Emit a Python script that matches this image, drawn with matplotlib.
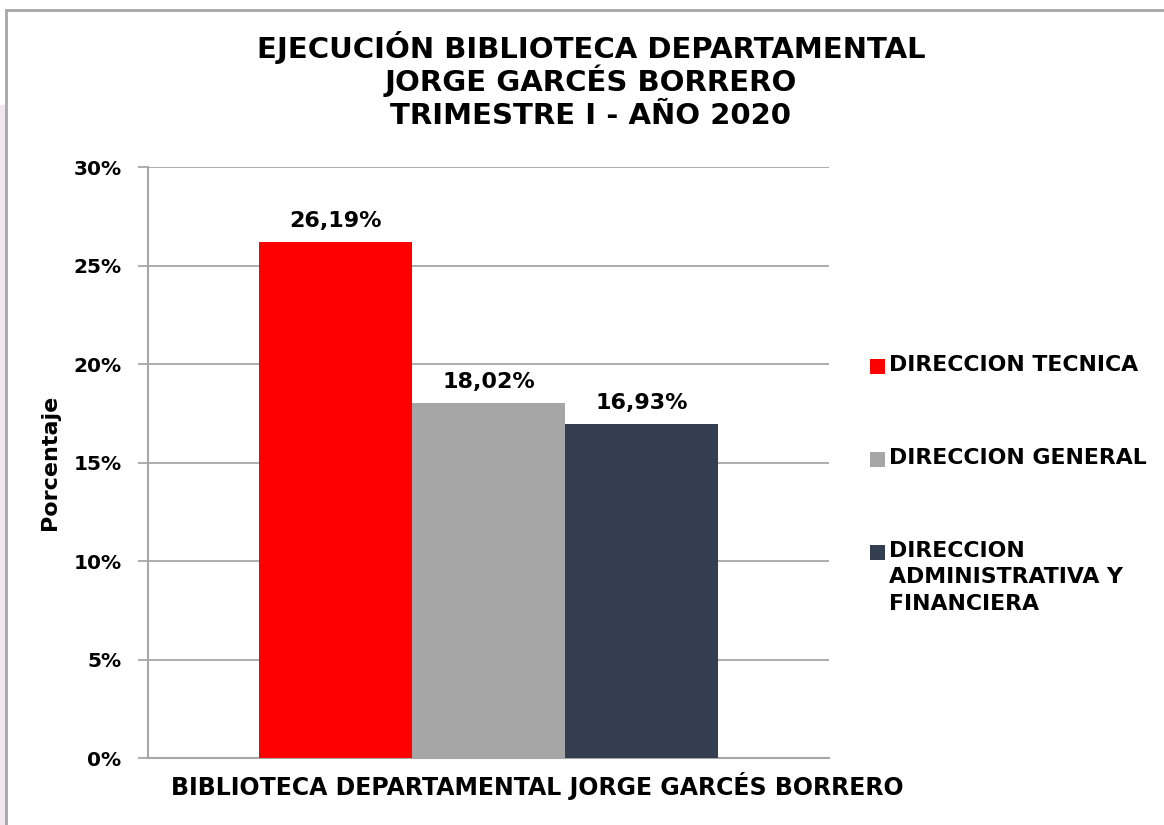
import matplotlib.pyplot as plt
from matplotlib.patches import Rectangle
from matplotlib.ticker import FuncFormatter

series = ["DIRECCION TECNICA", "DIRECCION GENERAL",
          "DIRECCION\nADMINISTRATIVA Y\nFINANCIERA"]
values = [26.19, 18.02, 16.93]
colors = ["#FF0000", "#A6A6A6", "#333F50"]
category = "BIBLIOTECA DEPARTAMENTAL JORGE GARCÉS BORRERO"
title_lines = ["EJECUCIÓN BIBLIOTECA DEPARTAMENTAL", "JORGE GARCÉS BORRERO",
               "TRIMESTRE I - AÑO 2020"]

plt.rcParams['font.family'] = ['DejaVu Sans']
plt.rcParams['font.weight'] = 'bold'

W, H = 1164, 825
fig = plt.figure(figsize=(W / 100, H / 100), dpi=100)

# outer frame like the excel chart area
fig.add_artist(Rectangle((0, 0), 6 / W, (H - 105) / H, transform=fig.transFigure,
                         color="#EFE6EE", lw=0))
fig.add_artist(Rectangle((6 / W, -0.01), 1.1, (H - 10) / H + 0.01,
                         transform=fig.transFigure, fill=False,
                         edgecolor="#A6A6A6", lw=2))

ax = fig.add_axes([148 / W, 1 - 758 / H, (829 - 148) / W, (758 - 167) / H])

bw = 153 / 681
xs = [0.5 - bw, 0.5, 0.5 + bw]
for x, v, c in zip(xs, values, colors):
    ax.bar(x, v, width=bw, color=c, zorder=3)
    ax.annotate(f"{v:.2f}%".replace(".", ","), (x, v), xytext=(0, 8),
                textcoords="offset points", ha="center", va="bottom",
                fontsize=16, fontweight="bold")

ax.set_xlim(0, 1)
ax.set_ylim(0, 30)
ax.set_yticks(range(0, 31, 5))
ax.yaxis.set_major_formatter(FuncFormatter(lambda v, p: f"{v:.0f}%"))
ax.set_xticks([])
ax.grid(axis="y", color="#A6A6A6", lw=1.3, zorder=0)
for s in ["top", "right"]:
    ax.spines[s].set_visible(False)
ax.spines["left"].set_color("#A6A6A6")
ax.spines["bottom"].set_color("#A6A6A6")
ax.spines["left"].set_linewidth(1.5)
ax.spines["bottom"].set_linewidth(1.5)
ax.tick_params(axis="y", length=7, width=1.3, color="#A6A6A6", labelsize=14.5, pad=12)
ax.set_ylabel("Porcentaje", fontsize=16, fontweight="bold", labelpad=10)

# title, one line at a time so accents don't shift the spacing
for base, line in zip([58, 91, 124], title_lines):
    fig.text(591 / W, 1 - base / H, line, ha="center", va="baseline",
             fontsize=21, fontweight="bold")
fig.text(537 / W, 1 - 786 / H, category, ha="center", va="center",
         fontsize=17, fontweight="bold")

# legend drawn by hand so the swatch sits on the first text line
leg_y = [366, 459, 552]
for y, lab, c in zip(leg_y, series, colors):
    fig.add_artist(Rectangle((870 / W, 1 - (y + 8) / H), 15 / W, 15 / H,
                             transform=fig.transFigure, color=c, lw=0))
    fig.text(889 / W, 1 - (y - 11) / H, lab, ha="left", va="top",
             fontsize=15.8, fontweight="bold", linespacing=1.4)

fig.savefig("out.png", dpi=100)
